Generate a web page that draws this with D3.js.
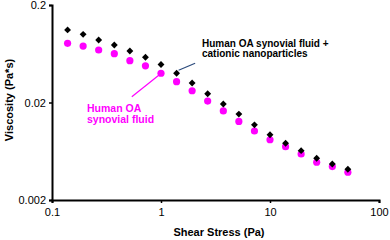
<!DOCTYPE html>
<html>
<head>
<meta charset="utf-8">
<script src="https://cdn.jsdelivr.net/npm/d3@7"></script>
<style>
  body { margin: 0; background: #fff; }
  svg { display: block; font-family: "Liberation Sans", Arial, sans-serif; }
</style>
</head>
<body>
<div id="chart"></div>
<script>
// Data
const shearStress = [0.139, 0.193, 0.268, 0.373, 0.518, 0.72, 1.0, 1.39, 1.93, 2.68,
    3.73, 5.18, 7.2, 10, 13.9, 19.3, 26.8, 37.3, 51.8]
const viscosityNano = [0.111, 0.100, 0.0875, 0.0778, 0.0675, 0.0582, 0.0491, 0.0399, 0.0317, 0.0246,
    0.0193, 0.0152, 0.0118, 0.00935, 0.00764, 0.00641, 0.00536, 0.00468, 0.00413]
const viscosityFluid = [0.0809, 0.0759, 0.0691, 0.0633, 0.0537, 0.0476, 0.0399, 0.0327, 0.0264, 0.0207,
    0.0164, 0.0128, 0.0102, 0.0083, 0.00704, 0.00593, 0.00488, 0.0044, 0.00385]
const xTicks = [0.1, 1, 10, 100]
const yTicks = [0.002, 0.02, 0.2]

function drawChart() {
  // Dimensions
    let dimensions = {
        width: 390,
        height: 240,
        margin: { top: 5, right: 11, bottom: 40, left: 52 },
    }
    dimensions.boundedWidth = dimensions.width - dimensions.margin.left - dimensions.margin.right
    dimensions.boundedHeight = dimensions.height - dimensions.margin.top - dimensions.margin.bottom

    const svg = d3.select("#chart")
        .append("svg")
            .attr("width", dimensions.width)
            .attr("height", dimensions.height)
    const bounds = svg.append("g")
        .attr("transform", `translate(${dimensions.margin.left},${dimensions.margin.top})`)

  // Scales
    const xScale = d3.scaleLog()
        .domain([0.1, 100])
        .range([0, dimensions.boundedWidth])
    const yScale = d3.scaleLog()
        .domain([0.002, 0.2])
        .range([dimensions.boundedHeight, 0])

  // Annotation lines
    bounds.append("line")
        .attr("x1", xScale(0.54)).attr("y1", yScale(0.0229))
        .attr("x2", xScale(1.0) - 1).attr("y2", yScale(0.0399) + 1)
        .attr("stroke", "#ff00ff")
        .attr("stroke-width", 1.2)
    bounds.append("line")
        .attr("x1", xScale(1.39) + 2).attr("y1", yScale(0.0399) - 3)
        .attr("x2", xScale(1.93) + 3).attr("y2", yScale(0.0505))
        .attr("stroke", "#2b4a7c")
        .attr("stroke-width", 1.2)

  // Data
    const fluid = shearStress.map((x, i) => ({ x, y: viscosityFluid[i] }))
    const nano = shearStress.map((x, i) => ({ x, y: viscosityNano[i] }))

    bounds.selectAll(".fluid")
        .data(fluid)
        .enter()
        .append("circle")
            .attr("class", "fluid")
            .attr("cx", d => xScale(d.x))
            .attr("cy", d => yScale(d.y))
            .attr("r", 3.6)
            .attr("fill", "#ff00ff")

    const diamond = d3.symbol().type(d3.symbolDiamond2).size(30)
    bounds.selectAll(".nano")
        .data(nano)
        .enter()
        .append("path")
            .attr("class", "nano")
            .attr("d", diamond)
            .attr("transform", d => `translate(${xScale(d.x)},${yScale(d.y)})`)
            .attr("fill", "#000")

  // Axes
    const xAxisGenerator = d3.axisBottom(xScale)
        .tickValues(xTicks)
        .tickFormat(d3.format("~g"))
        .tickSize(3)
        .tickPadding(5)
    const xAxis = bounds.append("g")
        .attr("transform", `translate(0,${dimensions.boundedHeight})`)
        .call(xAxisGenerator)
    const yAxisGenerator = d3.axisLeft(yScale)
        .tickValues(yTicks)
        .tickFormat(d3.format("~g"))
        .tickSize(3)
        .tickPadding(3)
    const yAxis = bounds.append("g")
        .call(yAxisGenerator)

    bounds.selectAll(".domain")
        .attr("stroke", "#000")
        .attr("stroke-width", 2)
    bounds.selectAll(".tick line")
        .attr("stroke", "#000")
        .attr("stroke-width", 1.5)
    bounds.selectAll(".tick text")
        .style("font-size", "11px")
        .attr("fill", "#000")

  // Axis titles
    svg.append("text")
        .attr("x", 219)
        .attr("y", 236)
        .attr("text-anchor", "middle")
        .style("font-size", "11px")
        .style("font-weight", "bold")
        .text("Shear Stress (Pa)")
    svg.append("text")
        .attr("transform", "translate(13,100) rotate(-90)")
        .attr("text-anchor", "middle")
        .style("font-size", "11px")
        .style("font-weight", "bold")
        .text("Viscosity (Pa*s)")

  // Labels
    const nanoLabel = svg.append("text")
        .attr("x", 202)
        .attr("y", 47)
        .style("font-size", "10px")
        .style("font-weight", "bold")
        .attr("fill", "#000")
    nanoLabel.append("tspan").attr("x", 202).text("Human OA synovial fluid +")
    nanoLabel.append("tspan").attr("x", 202).attr("dy", 10).text("cationic nanoparticles")

    const fluidLabel = svg.append("text")
        .attr("x", 87)
        .attr("y", 112)
        .style("font-size", "10.5px")
        .style("font-weight", "bold")
        .attr("fill", "#ff00ff")
    fluidLabel.append("tspan").attr("x", 87).text("Human OA")
    fluidLabel.append("tspan").attr("x", 87).attr("dy", 11).text("synovial fluid")
}

drawChart()
</script>
</body>
</html>
